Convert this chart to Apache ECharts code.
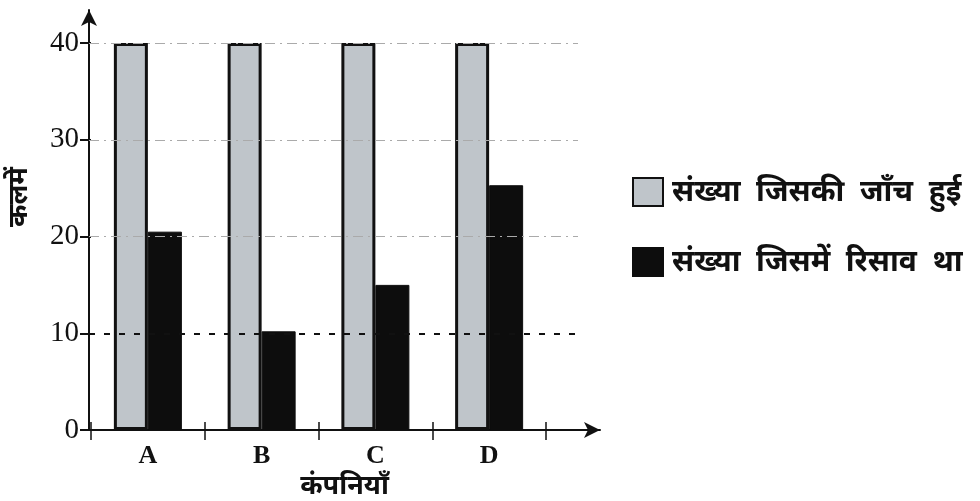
<!DOCTYPE html>
<html>
<head>
<meta charset="utf-8">
<script src="https://cdn.jsdelivr.net/npm/echarts@6.0.0/dist/echarts.min.js"></script>
<style>
  html, body { margin: 0; padding: 0; background: #fff; }
  #chart { width: 980px; height: 501px; }
</style>
</head>
<body>
<div id="chart"></div>
<script>
// data
const companies = ['A', 'B', 'C', 'D'];
const checkedCount = [40, 40, 40, 40];   // संख्या जिसकी जाँच हुई
const leakCount = [20.5, 10.2, 15, 25.3]; // संख्या जिसमें रिसाव था
const gridValues = [10, 20, 30, 40];

const nameChecked = 'संख्या  जिसकी  जाँच  हुई';
const nameLeak = 'संख्या  जिसमें  रिसाव  था';

const chart = echarts.init(document.getElementById('chart'), null, { renderer: 'canvas' });

const serif = 'Liberation Serif, DejaVu Serif, serif';
const hindi = 'Noto Sans, sans-serif';

const option = {
  animation: false,
  backgroundColor: '#fff',
  // 0: bars, 1: axis arrows, 2: dashed guide lines
  grid: [
    { left: 91, top: 43, width: 455, height: 387, outerBoundsMode: 'none' },
    { left: 89, top: 10, width: 511, height: 420, outerBoundsMode: 'none' },
    { left: 89, top: 43, width: 489, height: 387, outerBoundsMode: 'none' }
  ],
  legend: {
    orient: 'vertical',
    left: 632, top: 177, padding: 0,
    itemWidth: 30, itemHeight: 28, itemGap: 40,
    icon: 'rect',
    data: [nameChecked, nameLeak],
    textStyle: { fontSize: 30, fontWeight: 'bold', color: '#111', fontFamily: hindi, padding: [0, 0, 0, 4] }
  },
  xAxis: [
    {
      type: 'category', gridIndex: 0, data: companies,
      axisLine: { show: false },
      axisTick: { show: true, length: 10, lineStyle: { color: '#111', width: 1.5 } },
      axisLabel: { fontFamily: serif, fontSize: 26, fontWeight: 'bold', color: '#111', margin: 13 }
    },
    {
      type: 'value', gridIndex: 1, min: 0, max: 1,
      axisLine: { show: true, onZero: false, symbol: ['none', 'arrow'], symbolSize: [12, 16], lineStyle: { color: '#111', width: 2 } },
      axisTick: { show: false }, axisLabel: { show: false }, splitLine: { show: false },
      name: 'कंपनियाँ', nameLocation: 'middle', nameGap: 43,
      nameTextStyle: { fontSize: 27, fontWeight: 'bold', color: '#111', fontFamily: hindi }
    },
    { type: 'value', gridIndex: 2, min: 0, max: 1, show: false },
    {
      // inner half of the crossing ticks
      type: 'category', gridIndex: 0, data: companies, position: 'bottom',
      axisLine: { show: false },
      axisTick: { show: true, inside: true, length: 8, lineStyle: { color: '#111', width: 1.5 } },
      axisLabel: { show: false }
    }
  ],
  yAxis: [
    {
      type: 'value', gridIndex: 0, min: 0, max: 40, interval: 10,
      axisLine: { show: false },
      axisTick: { show: true, length: 11, lineStyle: { color: '#111', width: 2 } },
      axisLabel: { fontFamily: serif, fontSize: 29, color: '#111', margin: 12 },
      splitLine: { show: false }
    },
    {
      type: 'value', gridIndex: 1, min: 0, max: 1,
      axisLine: { show: true, onZero: false, symbol: ['none', 'arrow'], symbolSize: [12, 16], lineStyle: { color: '#111', width: 2 } },
      axisTick: { show: false }, axisLabel: { show: false }, splitLine: { show: false },
      name: 'कलमें', nameLocation: 'middle', nameGap: 56,
      nameTextStyle: { fontSize: 27, fontWeight: 'bold', color: '#111', fontFamily: hindi, padding: [0, 0, 0, 46] }
    },
    { type: 'value', gridIndex: 2, min: 0, max: 40, show: false }
  ],
  series: [
    {
      name: nameChecked, type: 'bar', xAxisIndex: 0, yAxisIndex: 0,
      data: checkedCount, barWidth: 34, barGap: '0%', z: 3,
      itemStyle: { color: '#bfc5ca', borderColor: '#111', borderWidth: 3 }
    },
    {
      name: nameLeak, type: 'bar', xAxisIndex: 0, yAxisIndex: 0,
      data: leakCount, barWidth: 34, z: 3,
      itemStyle: { color: '#0d0d0d', borderColor: '#0d0d0d', borderWidth: 1 }
    },
    {
      name: 'guides', type: 'line', xAxisIndex: 2, yAxisIndex: 2, data: [], z: 1,
      markLine: {
        silent: true, symbol: 'none', label: { show: false },
        data: gridValues.map(v => ({
          yAxis: v,
          lineStyle: v === 10
            ? { color: '#111', width: 2, type: [6, 9] }
            : { color: '#aaa', width: 1, type: [10, 5, 2, 5] }
        }))
      }
    }
  ]
};

chart.setOption(option);
</script>
</body>
</html>
